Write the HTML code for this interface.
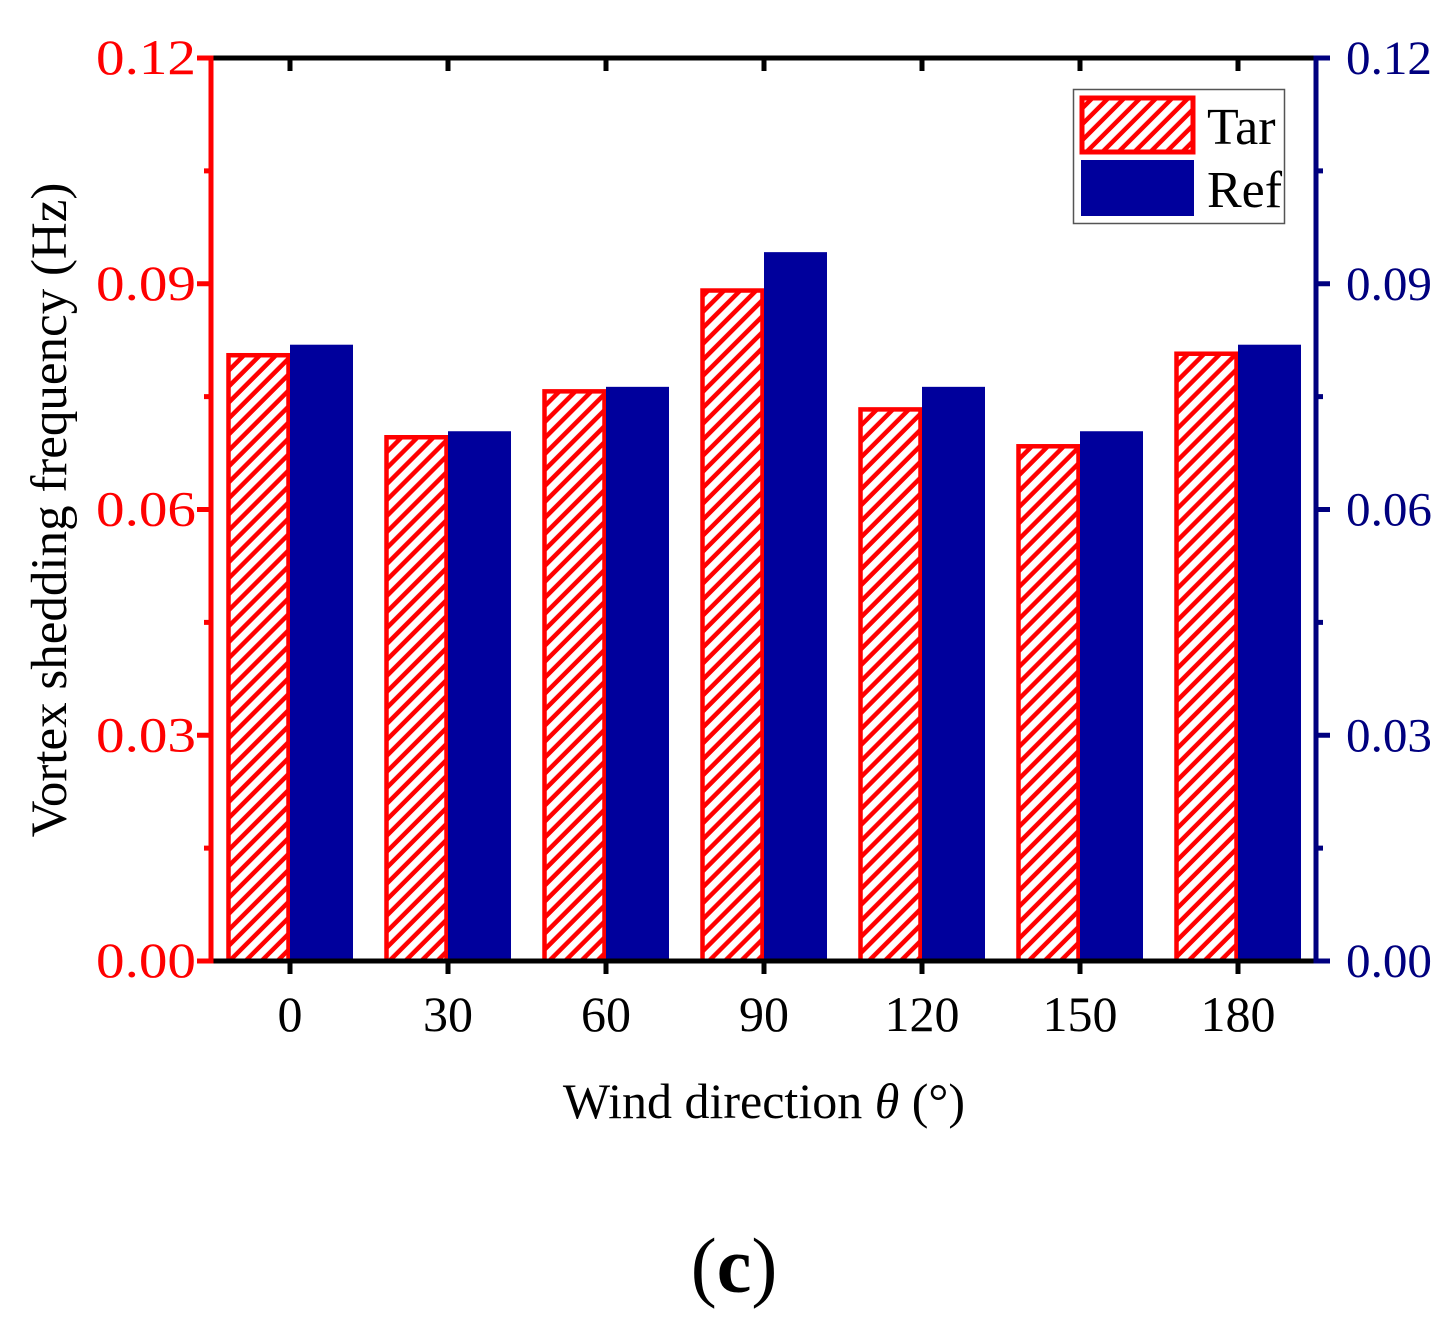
<!DOCTYPE html>
<html><head><meta charset="utf-8"><style>
body{margin:0;background:#fff}
text{font-family:"Liberation Serif",serif}
</style></head><body>
<svg width="1454" height="1322" viewBox="0 0 1454 1322" xmlns="http://www.w3.org/2000/svg">
<defs>
<pattern id="hatch" patternUnits="userSpaceOnUse" width="11.3" height="11.3" patternTransform="rotate(45)">
<rect width="11.3" height="11.3" fill="#fff"/>
<line x1="5.6" y1="0" x2="5.6" y2="11.3" stroke="#f00" stroke-width="4.5"/>
</pattern>
</defs>
<g id="bars"></g>
<g id="axes"></g>
<text x="764" y="1118" font-size="50" text-anchor="middle">Wind direction <tspan font-style="italic">θ</tspan> (°)</text>
<text transform="translate(66,510) rotate(-90)" font-size="51" text-anchor="middle">Vortex shedding frequency (Hz)</text>
<text x="734" y="1292" font-size="78" text-anchor="middle">(<tspan font-weight="bold">c</tspan>)</text>
<g>
<rect x="1073.5" y="89.5" width="211" height="134" fill="#fff" stroke="#555" stroke-width="1.5"/>
<rect x="1082" y="98" width="111" height="54" fill="url(#hatch)" stroke="#f00" stroke-width="5"/>
<text x="1207" y="144" font-size="52">Tar</text>
<rect x="1081" y="160" width="113" height="56" fill="#00009c"/>
<text x="1207" y="207" font-size="52">Ref</text>
</g>
</svg>
<script>
const categories=["0","30","60","90","120","150","180"];
const tarValues=[0.0807,0.0698,0.0759,0.0893,0.0735,0.0686,0.0809];
const refValues=[0.0819,0.0704,0.0763,0.0942,0.0763,0.0704,0.0819];
const yTicks=[0,0.03,0.06,0.09,0.12];
const yTickLabels=["0.00","0.03","0.06","0.09","0.12"];
const NS="http://www.w3.org/2000/svg";
const L=211,R=1316,T=58,B=961,yMax=0.12;
const x0=290,step=158,bw=63;
const y=v=>B-(v/yMax)*(B-T);
const xc=i=>x0+i*step;
function mk(tag,attrs,parent){const e=document.createElementNS(NS,tag);for(const k in attrs)e.setAttribute(k,attrs[k]);parent.appendChild(e);return e;}
const bars=document.getElementById('bars'),axes=document.getElementById('axes');
categories.forEach((c,i)=>{
 const t=mk('rect',{x:xc(i)-bw+1.5,y:y(tarValues[i])+1.5,width:bw-3,height:B-y(tarValues[i])-1.5,fill:'url(#hatch)',stroke:'#f00','stroke-width':4.5},bars);
 
 
 const r=mk('rect',{x:xc(i),y:y(refValues[i]),width:bw,height:B-y(refValues[i]),fill:'#00009c'},bars);
 
 
 mk('line',{x1:xc(i),x2:xc(i),y1:B,y2:B+13,stroke:'#000','stroke-width':5},axes);
 mk('line',{x1:xc(i),x2:xc(i),y1:T,y2:T+13,stroke:'#000','stroke-width':5},axes);
 const lb=mk('text',{x:xc(i),y:1031,'font-size':50,'text-anchor':'middle'},axes);
 lb.textContent=c;
 
 
});
mk('line',{x1:L,x2:R,y1:B,y2:B,stroke:'#000','stroke-width':5},axes);
mk('line',{x1:L,x2:R,y1:T,y2:T,stroke:'#000','stroke-width':5},axes);
mk('line',{x1:L,x2:L,y1:T-2.5,y2:B+2.5,stroke:'#f00','stroke-width':5},axes);
mk('line',{x1:R,x2:R,y1:T-2.5,y2:B+2.5,stroke:'#00007f','stroke-width':5},axes);
yTicks.forEach((v,i)=>{
 mk('line',{x1:L-14,x2:L,y1:y(v),y2:y(v),stroke:'#f00','stroke-width':5},axes);
 mk('line',{x1:R,x2:R+14,y1:y(v),y2:y(v),stroke:'#00007f','stroke-width':5},axes);
 if(i<yTicks.length-1){const m=(v+yTicks[i+1])/2;
  mk('line',{x1:L-7,x2:L,y1:y(m),y2:y(m),stroke:'#f00','stroke-width':5},axes);
  mk('line',{x1:R,x2:R+7,y1:y(m),y2:y(m),stroke:'#00007f','stroke-width':5},axes);}
 const a=mk('text',{x:196,y:y(v)+16,'font-size':50,'text-anchor':'end',fill:'#f00',textLength:100,lengthAdjust:'spacingAndGlyphs'},axes);
 a.textContent=yTickLabels[i];
 
 
 const b=mk('text',{x:1346,y:y(v)+16,'font-size':48,fill:'#00007f',textLength:86,lengthAdjust:'spacingAndGlyphs'},axes);
 b.textContent=yTickLabels[i];
 
 
});
</script>
</body></html>
